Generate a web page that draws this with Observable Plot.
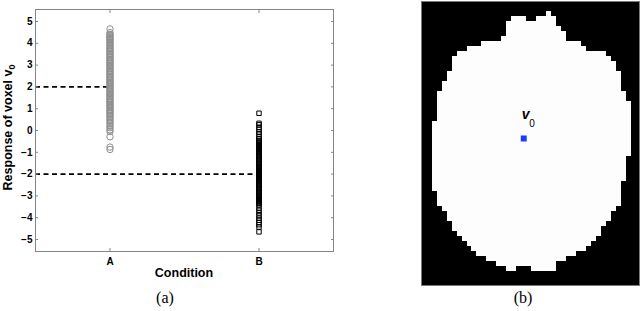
<!DOCTYPE html>
<html>
<head>
<meta charset="utf-8">
<script src="https://cdn.jsdelivr.net/npm/d3@7"></script>
<script src="https://cdn.jsdelivr.net/npm/@observablehq/plot@0.6"></script>
<style>
  html, body { margin: 0; padding: 0; background: #fff; overflow: hidden; }
  #wrap { position: relative; width: 640px; height: 311px; }
  #left { position: absolute; left: 0; top: 0; }
  #right { position: absolute; left: 400px; top: 0; }
  .cap { position: absolute; top: 289px; font-family: "Liberation Serif", "Times New Roman", serif; font-size: 16px; transform: translateX(-50%); white-space: nowrap; }
</style>
</head>
<body>
<div id="wrap">
  <div id="left"></div>
  <div id="right"></div>
  <div class="cap" style="left:165px">(a)</div>
  <div class="cap" style="left:523px">(b)</div>
</div>
<script>
// ---------- data: panel (a) ----------
const conditions = ["A", "B"];
const conditionMeans = [2, -2];
const yTicks = [-5, -4, -3, -2, -1, 0, 1, 2, 3, 4, 5];
const responseA = [4.66, 4.49, 4.41, 4.37, 4.31, 4.27, 4.21, 4.17, 4.12, 4.05, 4.01, 3.93, 3.89, 3.82, 3.77, 3.72, 3.65, 3.61, 3.54, 3.5, 3.43, 3.37, 3.33, 3.26, 3.22, 3.15, 3.09, 3.05, 2.98, 2.94, 2.87, 2.83, 2.76, 2.7, 2.66, 2.59, 2.55, 2.48, 2.44, 2.37, 2.31, 2.27, 2.2, 2.16, 2.1, 2.04, 1.99, 1.93, 1.88, 1.81, 1.77, 1.7, 1.66, 1.59, 1.55, 1.48, 1.44, 1.37, 1.31, 1.27, 1.2, 1.16, 1.09, 1.05, 0.98, 0.92, 0.88, 0.81, 0.77, 0.7, 0.64, 0.58, 0.5, 0.45, 0.36, 0.3, 0.2, 0.13, 0.03, -0.05, -0.29, -0.76, -0.87];
const responseB = [0.79, 0.33, 0.26, 0.15, 0.05, -0.07, -0.17, -0.28, -0.37, -0.45, -0.5, -0.55, -0.59, -0.64, -0.69, -0.74, -0.78, -0.83, -0.88, -0.93, -0.97, -1.02, -1.07, -1.12, -1.16, -1.21, -1.26, -1.31, -1.35, -1.4, -1.45, -1.5, -1.54, -1.59, -1.64, -1.69, -1.73, -1.78, -1.83, -1.88, -1.92, -1.97, -2.02, -2.07, -2.11, -2.16, -2.21, -2.26, -2.3, -2.35, -2.4, -2.45, -2.49, -2.54, -2.59, -2.64, -2.68, -2.73, -2.78, -2.83, -2.87, -2.92, -2.97, -3.02, -3.06, -3.11, -3.16, -3.21, -3.25, -3.3, -3.35, -3.42, -3.55, -3.66, -3.78, -3.9, -4.02, -4.12, -4.22, -4.32, -4.43, -4.65];

// ---------- data: panel (b) brain mask (row, start col, end col) ----------
const maskRow   = [2, 3, 3, 4, 5, 6, 7, 8, 9, 10, 11, 12, 13, 14, 15, 16, 17, 18, 19, 20, 21, 22, 23, 24, 25, 26, 27, 28, 29, 30, 31, 32, 33, 34, 35, 36, 37, 38, 39, 40, 41, 42, 43, 44, 45, 46, 47, 48, 49, 50, 51, 52, 53, 53];
const maskStart = [25, 18, 23, 17, 17, 17, 16, 12, 9, 7, 6, 6, 6, 5, 5, 4, 4, 3, 3, 3, 3, 3, 3, 2, 2, 2, 2, 2, 2, 2, 2, 2, 2, 2, 2, 2, 2, 3, 3, 3, 4, 5, 5, 6, 6, 7, 8, 9, 10, 11, 13, 15, 17, 22];
const maskEnd   = [26, 21, 27, 27, 28, 29, 29, 32, 33, 37, 38, 39, 39, 40, 40, 40, 40, 41, 41, 42, 42, 42, 42, 42, 42, 42, 42, 42, 42, 42, 41, 41, 41, 41, 41, 40, 40, 40, 40, 40, 39, 38, 38, 37, 36, 36, 35, 34, 33, 31, 29, 27, 19, 27];
const voxelCol = 20;
const voxelRow = 27;
const voxelName = "v";
const voxelIndex = "0";

// ---------- tables ----------
const xDomain = [0.5, 2.5];
const points = [
  ...responseA.map(v => ({pos: 1, v, cond: "A"})),
  ...responseB.map(v => ({pos: 2, v, cond: "B"}))
];
const means = conditionMeans.map((m, i) => ({mean: m, pos: i + 1}));
const maskCells = maskRow.map((r, i) => ({row: r, rowEnd: r + 1, start: maskStart[i], end: maskEnd[i]}));
const v0 = [{col: voxelCol, row: voxelRow}];

const sans = "'Liberation Sans', Arial, Helvetica, sans-serif";
const axisGray = "#858585";

const left = Plot.plot({
  width: 340, height: 311,
  marginLeft: 35, marginRight: 7, marginTop: 9, marginBottom: 60,
  x: {domain: xDomain},
  y: {domain: [-5.55, 5.55]},
  style: {fontFamily: sans, fontSize: "10px", fontWeight: "bold", color: "black", background: "transparent"},
  marks: [
    Plot.ruleY(means, {y: "mean", x1: () => xDomain[0], x2: "pos", stroke: "black", strokeWidth: 1.8, strokeDasharray: "5,3.5"}),
    Plot.dot(points.filter(d => d.cond === "A"), {x: "pos", y: "v", r: 3.2, stroke: "#8e8e8e", strokeWidth: 1, fill: "none"}),
    Plot.dot(points.filter(d => d.cond === "B"), {x: "pos", y: "v", r: 2.5, symbol: "square", stroke: "black", strokeWidth: 1, fill: "none"}),
    Plot.frame({stroke: axisGray}),
    Plot.axisY({ticks: yTicks, tickSize: 0, tickPadding: 3, label: null, fontWeight: "bold", fontSize: 10}),
    Plot.axisY({anchor: "left", ticks: yTicks, tickSize: 3, dx: 3, tickFormat: () => "", label: null, stroke: axisGray}),
    Plot.axisY({anchor: "right", ticks: yTicks, tickSize: 3, dx: -3, tickFormat: () => "", label: null, stroke: axisGray}),
    Plot.axisX({ticks: [1, 2], tickFormat: d => conditions[d - 1], tickSize: 0, tickPadding: 6, label: null, fontWeight: "bold", fontSize: 10}),
    Plot.axisX({anchor: "bottom", ticks: [1, 2], tickSize: 3, dy: -3, tickFormat: () => "", label: null, stroke: axisGray}),
    Plot.axisX({anchor: "top", ticks: [1, 2], tickSize: 3, dy: 3, tickFormat: () => "", label: null, stroke: axisGray})
  ]
});
document.getElementById("left").appendChild(left);

const svgL = d3.select(left);
svgL.append("text")
  .attr("x", 184).attr("y", 277)
  .attr("text-anchor", "middle")
  .style("font-family", sans).style("font-size", "12.5px").style("font-weight", "bold")
  .text("Condition");
const yl = svgL.append("text")
  .attr("transform", "translate(12,127.5) rotate(-90)")
  .attr("text-anchor", "middle")
  .style("font-family", sans).style("font-size", "12.5px").style("font-weight", "bold");
yl.append("tspan").text("Response of voxel v");
yl.append("tspan").attr("dy", 3).style("font-size", "9px").text("0");

const right = Plot.plot({
  width: 240, height: 311,
  marginLeft: 21, marginRight: 1, marginTop: 1, marginBottom: 26,
  x: {domain: [-0.15, 43.67], axis: null},
  y: {domain: [0, 56.8], reverse: true, axis: null},
  style: {fontFamily: sans, background: "transparent", color: "black"},
  marks: [
    Plot.frame({fill: "black", stroke: "#7a7a7a"}),
    Plot.rect(maskCells, {x1: "start", x2: "end", y1: "row", y2: "rowEnd", fill: "#fdfdfd", shapeRendering: "crispEdges"}),
    Plot.rect(v0, {x1: "col", x2: d => d.col + 1, y1: "row", y2: d => d.row + 1, inset: -0.5, fill: "#1a3cff"}),
    Plot.text(v0, {x: "col", y: "row", text: () => voxelName, dx: 0, dy: -18, textAnchor: "start", lineAnchor: "bottom", fontSize: 14, fontWeight: "bold", fontStyle: "italic", fill: "black"}),
    Plot.text(v0, {x: "col", y: "row", text: () => voxelIndex, dx: 7.5, dy: -10, textAnchor: "start", lineAnchor: "bottom", fontSize: 10, fill: "black"})
  ]
});
document.getElementById("right").appendChild(right);
</script>
</body>
</html>
